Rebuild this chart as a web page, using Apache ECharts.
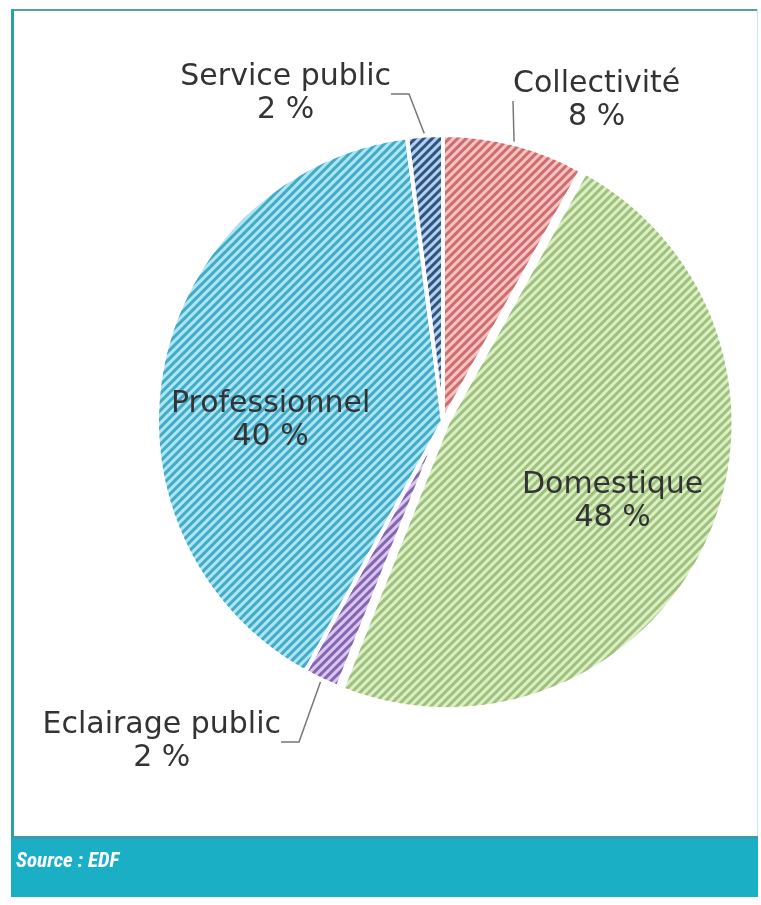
<!DOCTYPE html>
<html>
<head>
<meta charset="utf-8">
<script src="https://cdn.jsdelivr.net/npm/echarts@6/dist/echarts.min.js"></script>
<style>
html,body{margin:0;padding:0;background:#fff;}
#chart{width:761px;height:905px;}
</style>
</head>
<body>
<div id="chart"></div>
<script>
const categories = ['Collectivité', 'Domestique', 'Eclairage public', 'Professionnel', 'Service public'];
const values = [8, 48, 2, 40, 2];
const baseColors = ['#f8c2c2', '#dbefc4', '#dbc6f2', '#aae6f4', '#b6cfee'];
const stripeColors = ['#cc6e6e', '#a0c07e', '#8465b0', '#44aac6', '#2c5680'];
const labelInside = [false, true, false, true, false];
const sourceText = 'Source : EDF';

const chart = echarts.init(document.getElementById('chart'));
const FONT = '"DejaVu Sans"';

const data = categories.map((name, i) => ({
  name: name,
  value: values[i],
  selected: name === 'Domestique',
  itemStyle: {
    color: baseColors[i],
    decal: {
      symbol: 'rect',
      dashArrayX: [1, 0],
      dashArrayY: [3, 3],
      rotation: -Math.PI / 4,
      color: stripeColors[i],
      symbolSize: 1
    }
  },
  label: labelInside[i] ? { position: 'inside' } : { position: 'outside' },
  labelLine: { show: !labelInside[i] }
}));

// where the reference places each label (anchor point of the text block)
const labelPlace = {
  'Service public': { x: 391, y: 94, align: 'right' },
  'Collectivité': { x: 513, y: 101, align: 'left' },
  'Eclairage public': { x: 281, y: 742, align: 'right' },
  'Professionnel': { dx: -29, dy: 27 },
  'Domestique': { dx: 33, dy: 16 }
};

const option = {
  backgroundColor: '#ffffff',
  animation: false,
  aria: { enabled: true, decal: { show: true } },
  graphic: [
    { type: 'rect', shape: { x: 11, y: 9, width: 747, height: 2 }, style: { fill: '#5c9e9e' }, silent: true },
    { type: 'rect', shape: { x: 11, y: 9, width: 3, height: 888 }, style: { fill: '#22a89c' }, silent: true },
    { type: 'rect', shape: { x: 757, y: 9, width: 1, height: 888 }, style: { fill: '#c8e8ee' }, silent: true },
    { type: 'rect', shape: { x: 11, y: 836, width: 747, height: 61 }, style: { fill: '#1bafc6' }, silent: true },
    { type: 'rect', shape: { x: 11, y: 836, width: 747, height: 3 }, style: { fill: '#3c9aae' }, silent: true },
    { type: 'text', left: 16, top: 851, style: { text: sourceText, fill: '#ffffff', font: 'italic bold 21px "Liberation Sans Narrow", "Roboto Condensed", Roboto, sans-serif' }, silent: true }
  ],
  series: [{
    type: 'pie',
    center: [443, 421],
    radius: [0, 286],
    startAngle: 90,
    clockwise: true,
    selectedMode: 'multiple',
    selectedOffset: 5,
    data: data,
    itemStyle: { borderColor: '#ffffff', borderWidth: 4 },
    label: {
      show: true,
      fontFamily: FONT,
      fontSize: 30,
      color: '#333333',
      lineHeight: 33,
      formatter: (p) => '{a|' + p.name + '}\n{a|' + p.value + ' %}',
      rich: { a: { fontFamily: FONT, fontSize: 30, color: '#333333', lineHeight: 33, align: 'center' } }
    },
    labelLine: { length: 45, length2: 18, lineStyle: { color: '#777777', width: 1.5 } },
    labelLayout: function (params) {
      const p = labelPlace[categories[params.dataIndex]];
      if (!p) return {};
      if (p.x != null) return { x: p.x, y: p.y, align: p.align, verticalAlign: 'middle' };
      return { dx: p.dx, dy: p.dy };
    }
  }]
};
chart.setOption(option);
</script>
</body>
</html>
